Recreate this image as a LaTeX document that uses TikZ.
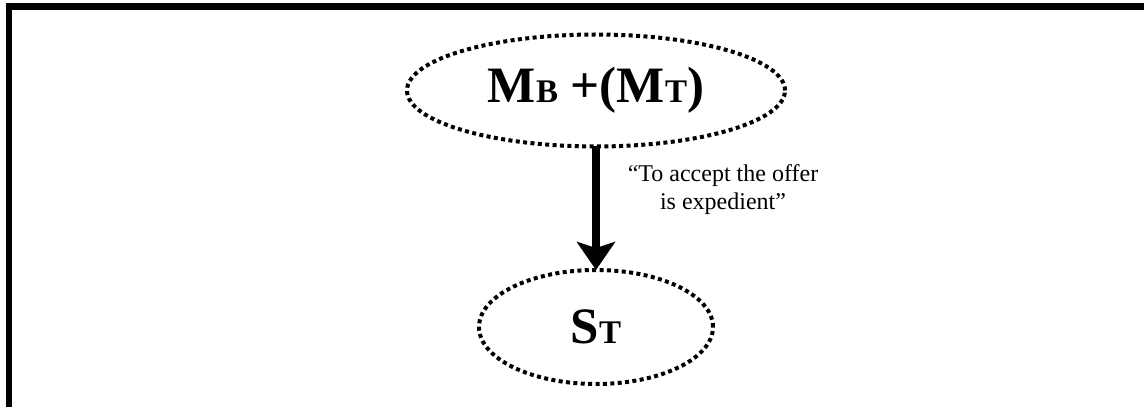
\documentclass[tikz,border=0pt]{standalone}
\usepackage{fontspec}
\setmainfont{Liberation Serif}
\usetikzlibrary{positioning,arrows.meta,shapes.geometric}
\newcommand{\lowidx}[1]{{\fontsize{16.5pt}{18pt}\selectfont #1}}

\begin{document}
\begin{tikzpicture}[
  x=0.5pt, y=0.5pt,
  state/.style={draw, ellipse, line width=2pt, dash pattern=on 2pt off 1.7pt,
                inner sep=0pt, outer sep=0pt, font=\fontsize{25.5pt}{30pt}\selectfont\bfseries},
  arr/.style={-{Stealth[length=14pt,width=19pt,inset=3pt]}, line width=4pt},
  note/.style={align=center, font=\fontsize{12pt}{14pt}\selectfont},
]
  \useasboundingbox (0,0) rectangle (1144,407);
  % frame (left and top only)
  \draw[line width=3.2pt] (9,0) -- (9,400.5) -- (1144,400.5);

  % states
  \node[state, minimum width=189pt, minimum height=56pt] (mt) at (596,316.5) {M\lowidx{B} +(M\lowidx{T})};
  \node[state, minimum width=117pt, minimum height=57pt] (st) at (596,80) {S\lowidx{T}};

  \draw[arr] (mt) -- (st);
  \node[note] (lbl) at (723,217) {“To accept the offer\\is expedient”};
\end{tikzpicture}
\end{document}
